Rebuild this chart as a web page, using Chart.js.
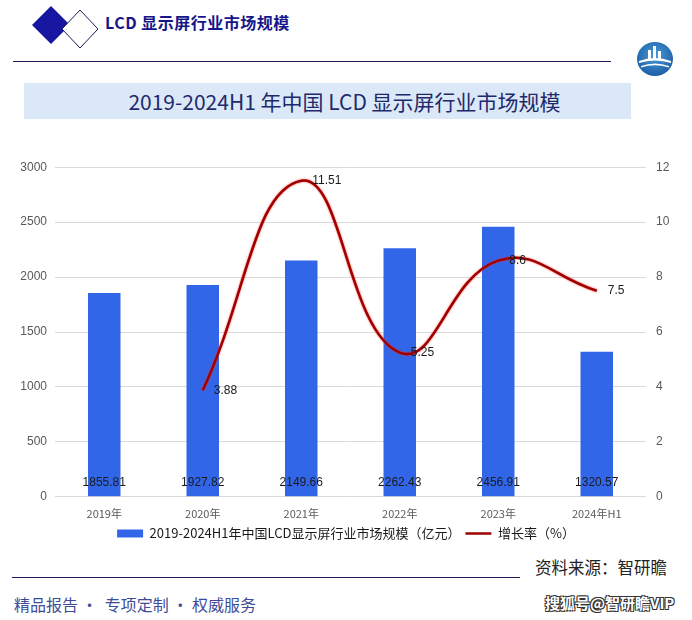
<!DOCTYPE html>
<html>
<head>
<meta charset="utf-8">
<script src="https://cdn.jsdelivr.net/npm/chart.js@4.4.1/dist/chart.umd.min.js"></script>
<style>
  html, body { margin: 0; padding: 0; background: #fff; }
  body { width: 692px; height: 620px; position: relative; overflow: hidden;
         font-family: "Noto Sans CJK SC", "Liberation Sans", sans-serif; }
  .abs { position: absolute; }
  #head { left: 105px; top: 10px; font-size: 16px; font-weight: bold; color: #16168a; letter-spacing: 0.5px; }
  #hline { left: 13px; top: 61px; width: 598px; height: 1px; background: #1b1b5e; }
  #tbox { left: 24px; top: 83px; width: 607px; height: 36px; background: #dbe8f8; }
  #title { left: 58px; top: 83px; width: 573px; height: 36px; line-height: 36px; text-align: center;
           font-size: 21px; color: #1f2a6b; }
  #chartWrap { left: 0; top: 150px; width: 692px; height: 402px; }
  #src { left: 535px; top: 555px; font-size: 16.5px; color: #222; }
  #fline { left: 12px; top: 577px; width: 508px; height: 1px; background: #1b1b5e; }
  #foot { left: 14px; top: 592px; font-size: 16px; color: #3e4c98; }
  #wm { left: 545px; top: 592px; font-size: 15px; font-weight: bold; color: #fff;
        text-shadow: -1px -1px 0 #333, 1px -1px 0 #333, -1px 1px 0 #333, 1px 1px 0 #333; }
</style>
</head>
<body>
<svg class="abs" style="left:0;top:0" width="110" height="56">
  <polygon points="51,6 70,25 51,44 32,25" fill="#1616a0"/>
  <polygon points="80,10 98,29 80,48 62,29" fill="#fff" stroke="#1b1b5e" stroke-width="1"/>
</svg>
<div id="head" class="abs">LCD 显示屏行业市场规模</div>
<div id="hline" class="abs"></div>
<svg class="abs" style="left:636px;top:40px" width="40" height="38">
  <defs>
    <radialGradient id="g" cx="50%" cy="40%" r="60%">
      <stop offset="0%" stop-color="#4a9ad6"/>
      <stop offset="100%" stop-color="#1d5fa6"/>
    </radialGradient>
  </defs>
  <ellipse cx="19" cy="19" rx="18" ry="17" fill="url(#g)"/>
  <rect x="12" y="10" width="3" height="10" fill="#fff"/>
  <rect x="17" y="6" width="3" height="14" fill="#fff"/>
  <rect x="22" y="11" width="3" height="9" fill="#fff"/>
  <path d="M3 21 Q19 15 35 21 L35 23 Q19 18 3 23 Z" fill="#fff"/>
  <path d="M5 26 Q19 21 33 26 L33 27.5 Q19 23 5 27.5 Z" fill="#fff"/>
</svg>
<div id="tbox" class="abs"></div>
<div id="title" class="abs">2019-2024H1 年中国 LCD 显示屏行业市场规模</div>
<div id="chartWrap" class="abs"><canvas id="c" width="692" height="402"></canvas></div>
<div id="src" class="abs">资料来源：智研瞻</div>
<div id="fline" class="abs"></div>
<div id="foot" class="abs">精品报告 · &nbsp;专项定制 · 权威服务</div>
<div id="wm" class="abs">搜狐号@智研瞻VIP</div>

<script>
var categories = ["2019年", "2020年", "2021年", "2022年", "2023年", "2024年H1"];
var marketSize = [1855.81, 1927.82, 2149.66, 2262.43, 2456.91, 1320.57];
var growthRate = [null, 3.88, 11.51, 5.25, 8.6, 7.5];
var leftTicks = [0, 500, 1000, 1500, 2000, 2500, 3000];
var rightTicks = [0, 2, 4, 6, 8, 10, 12];

var numFont = '"Liberation Sans", "DejaVu Sans", sans-serif';

// soft red glow around the growth line, like the outlined line in the source
var lineGlow = {
  id: 'lineGlow',
  beforeDatasetDraw: function(chart, args) {
    if (args.index !== 1) return;
    chart.ctx.save();
    chart.ctx.shadowColor = 'rgba(255, 40, 40, 0.9)';
    chart.ctx.shadowBlur = 2;
  },
  afterDatasetDraw: function(chart, args) {
    if (args.index !== 1) return;
    chart.ctx.restore();
  }
};

// value labels: bar values near the bottom of each bar, growth values right of each point
var valueLabels = {
  id: 'valueLabels',
  afterDatasetsDraw: function(chart) {
    var ctx = chart.ctx;
    ctx.save();
    ctx.font = '12px ' + numFont;
    ctx.fillStyle = '#1a1a1a';
    ctx.textBaseline = 'middle';
    var bars = chart.getDatasetMeta(0).data;
    ctx.textAlign = 'center';
    bars.forEach(function(b, i) {
      ctx.fillText(marketSize[i].toFixed(2), b.x, chart.chartArea.bottom - 14);
    });
    var pts = chart.getDatasetMeta(1).data;
    ctx.textAlign = 'left';
    pts.forEach(function(p, i) {
      if (growthRate[i] === null) return;
      ctx.fillText(String(growthRate[i]), p.x + 11, p.y);
    });
    ctx.restore();
  }
};

new Chart(document.getElementById('c'), {
  data: {
    labels: categories,
    datasets: [
      {
        type: 'bar',
        label: '2019-2024H1年中国LCD显示屏行业市场规模（亿元）',
        data: marketSize,
        backgroundColor: '#3266e8',
        borderWidth: 0,
        barPercentage: 0.33,
        categoryPercentage: 1,
        yAxisID: 'y',
        order: 2
      },
      {
        type: 'line',
        label: '增长率（%）',
        data: growthRate,
        borderColor: '#9e0000',
        backgroundColor: '#9e0000',
        borderWidth: 2.5,
        tension: 0.45,
        pointRadius: 0,
        yAxisID: 'y1',
        order: 1
      }
    ]
  },
  options: {
    responsive: false,
    animation: false,
    layout: { padding: { top: 16, left: 0, right: 0, bottom: 2 } },
    plugins: {
      tooltip: { enabled: false },
      legend: {
        position: 'bottom',
        labels: {
          usePointStyle: true,
          pointStyleWidth: 26,
          boxHeight: 8,
          padding: 5,
          color: '#1a1a1a',
          font: { size: 13, family: '"Noto Sans CJK SC", sans-serif' },
          generateLabels: function(chart) {
            var items = Chart.defaults.plugins.legend.labels.generateLabels(chart);
            items.sort(function(a, b) { return a.datasetIndex - b.datasetIndex; });
            items[0].pointStyle = 'rect';
            items[0].lineWidth = 0;
            items[1].pointStyle = 'line';
            items[1].lineWidth = 2.5;
            return items;
          }
        }
      }
    },
    scales: {
      x: {
        grid: { display: false },
        border: { display: false },
        ticks: { color: '#595959', font: { size: 11, family: '"Noto Sans CJK SC", sans-serif' }, padding: 2 }
      },
      y: {
        position: 'left',
        min: 0, max: 3000,
        afterBuildTicks: function(s) { s.ticks = leftTicks.map(function(v) { return { value: v }; }); },
        afterFit: function(s) { s.width = 55; },
        grid: { color: '#d9d9d9', drawTicks: false },
        border: { display: false },
        ticks: { color: '#595959', font: { size: 12, family: numFont }, padding: 8,
                 callback: function(v) { return String(v); } }
      },
      y1: {
        position: 'right',
        min: 0, max: 12,
        afterBuildTicks: function(s) { s.ticks = rightTicks.map(function(v) { return { value: v }; }); },
        afterFit: function(s) { s.width = 46; },
        grid: { display: false, drawTicks: false },
        border: { display: false },
        ticks: { color: '#595959', font: { size: 12, family: numFont }, padding: 10,
                 callback: function(v) { return String(v); } }
      }
    }
  },
  plugins: [lineGlow, valueLabels]
});
</script>
</body>
</html>
